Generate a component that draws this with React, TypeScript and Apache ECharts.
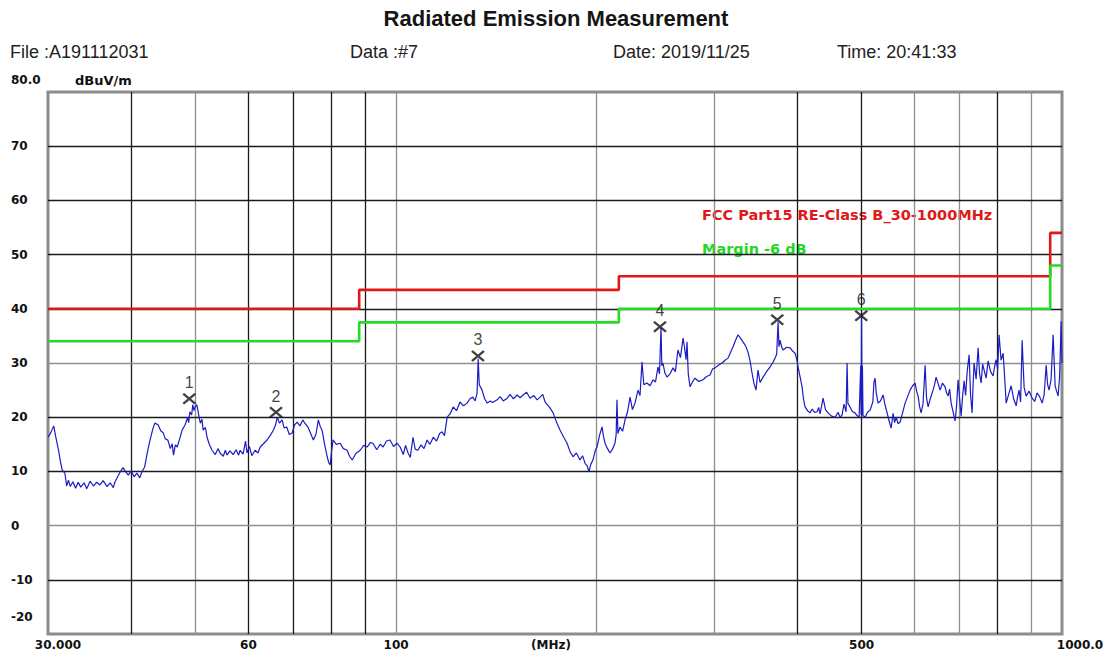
import React, { useEffect, useRef } from "react";
import * as echarts from "echarts";

const TITLE = "Radiated Emission Measurement";
const HEADER_TEXTS = ["File :A191112031", "Data :#7", "Date: 2019/11/25", "Time: 20:41:33"];
const Y_UNIT = "dBuV/m";
const X_UNIT = "(MHz)";
const LIMIT_NAME = "FCC Part15 RE-Class B_30-1000MHz";
const MARGIN_NAME = "Margin -6 dB";

// Measured trace: [frequency MHz, level dBuV/m]
const TRACE: number[][] = [
  [30.0,16.3],[30.3,17.2],[30.6,18.4],[30.8,16.5],[31.1,14.0],[31.3,12.0],[31.5,10.3],[31.8,9.7],[32.0,7.3],[32.2,8.4],
  [32.4,7.2],[32.7,8.1],[33.0,6.9],[33.3,8.0],[33.6,7.1],[34.0,7.9],[34.3,6.8],[34.7,8.2],[35.1,7.3],[35.5,8.0],
  [35.9,7.5],[36.3,8.3],[36.8,7.2],[37.2,7.9],[37.6,7.0],[37.8,8.0],[38.2,9.1],[38.5,9.9],[38.9,10.7],[39.2,10.0],
  [39.6,9.3],[40.0,10.1],[40.4,9.0],[40.8,9.7],[41.2,8.8],[41.5,9.9],[41.9,10.8],[42.3,13.5],[42.7,15.8],[43.1,17.8],
  [43.4,18.9],[43.9,18.6],[44.3,17.5],[44.7,17.1],[45.0,16.0],[45.4,15.8],[45.8,14.2],[46.1,15.1],[46.3,13.0],[46.6,14.9],
  [46.9,14.5],[47.3,16.0],[47.7,17.6],[48.2,18.6],[48.6,19.9],[48.8,19.0],[49.0,21.0],[49.3,20.4],[49.5,22.3],[49.7,21.2],
  [49.9,21.9],[50.2,22.3],[50.5,20.5],[50.8,18.9],[51.1,19.6],[51.3,17.6],[51.7,18.1],[52.0,16.3],[52.4,15.0],[52.9,13.9],
  [53.5,13.1],[54.0,14.2],[54.4,13.4],[55.0,12.8],[55.4,13.9],[55.7,13.0],[56.3,13.8],[56.9,13.1],[57.5,14.0],[58.0,13.0],
  [58.3,13.9],[58.9,13.2],[59.4,15.6],[59.7,13.4],[60.2,14.6],[60.7,12.9],[61.4,13.9],[62.0,13.4],[62.5,14.5],[63.2,15.1],
  [64.0,15.8],[64.6,16.5],[65.4,17.6],[65.9,18.6],[66.3,20.0],[66.8,18.9],[67.4,19.5],[67.9,18.0],[68.5,18.2],[69.1,16.8],
  [69.8,17.1],[70.4,18.6],[71.0,19.1],[71.7,18.4],[72.4,19.5],[73.0,18.8],[73.7,18.2],[74.4,17.0],[75.1,15.8],[75.8,16.9],
  [76.4,19.5],[76.9,18.3],[77.4,17.6],[78.1,14.9],[78.8,12.7],[79.2,11.6],[79.6,11.2],[80.0,13.8],[80.4,15.8],[81.3,15.0],
  [82.4,15.2],[83.3,14.2],[84.4,13.9],[85.1,12.8],[85.9,12.1],[87.0,13.3],[88.3,13.9],[89.4,14.8],[90.5,14.5],[91.4,15.3],
  [92.3,15.2],[93.5,14.0],[94.6,15.0],[95.6,14.5],[96.7,15.6],[97.9,15.8],[99.1,14.6],[100.3,15.2],[101.4,14.5],[102.5,13.1],
  [103.3,14.8],[104.2,13.4],[105.0,12.6],[106.0,16.3],[106.8,14.1],[107.8,13.9],[109.0,14.9],[110.1,14.2],[111.3,15.8],[112.4,15.0],
  [113.7,16.3],[115.0,15.6],[116.2,17.0],[117.2,17.3],[118.2,16.6],[119.3,20.0],[120.5,20.6],[121.8,21.9],[123.2,21.2],[124.7,22.8],
  [126.2,22.1],[127.8,22.6],[129.1,23.4],[130.4,23.7],[131.4,23.0],[132.3,24.5],[132.8,30.8],[133.3,26.0],[134.6,25.0],[135.8,23.4],
  [137.0,22.6],[138.4,23.0],[139.6,22.7],[141.8,23.2],[143.3,23.8],[144.8,23.0],[146.8,23.5],[148.3,24.2],[150.0,23.4],[151.9,24.1],
  [153.5,23.6],[155.1,24.1],[157.0,24.6],[158.9,23.5],[161.0,24.0],[162.8,23.2],[164.5,23.7],[166.0,24.2],[167.4,22.8],[170.0,21.8],
  [172.1,20.8],[174.2,19.0],[176.3,17.6],[178.5,16.3],[180.6,15.2],[182.5,13.6],[184.4,12.7],[186.5,13.4],[188.9,12.1],[190.5,12.9],
  [192.2,11.5],[193.6,11.0],[194.8,9.9],[196.0,11.3],[197.5,12.1],[199.0,13.8],[200.3,14.5],[202.0,16.6],[203.8,18.2],[204.8,16.5],
  [205.9,15.2],[207.7,14.2],[209.5,13.4],[211.3,14.1],[213.1,15.2],[214.0,16.8],[214.6,23.2],[215.3,17.0],[216.9,18.2],[218.8,17.4],
  [220.7,19.5],[222.6,21.0],[224.5,23.7],[226.4,21.4],[228.4,22.6],[230.8,25.0],[232.4,24.0],[234.0,30.2],[235.5,26.0],[238.1,26.3],
  [240.6,25.8],[243.1,26.9],[245.2,26.5],[247.3,29.3],[248.6,28.0],[249.9,36.5],[250.6,29.5],[251.6,30.0],[253.2,28.2],[255.1,27.4],
  [257.8,28.0],[260.5,29.1],[262.6,28.4],[265.0,32.4],[267.3,31.0],[269.7,34.6],[271.0,33.0],[272.5,30.6],[273.4,33.9],[274.6,28.0],
  [276.3,25.6],[278.6,26.5],[281.1,27.2],[284.8,26.6],[289.0,26.9],[292.5,27.5],[296.1,27.8],[298.6,28.9],[301.2,29.1],[304.8,29.6],
  [308.6,30.0],[311.8,30.5],[315.1,30.9],[317.9,32.0],[320.6,33.0],[323.4,34.2],[326.2,35.2],[329.0,34.6],[331.8,33.9],[334.7,33.2],
  [337.6,32.0],[340.0,30.4],[342.3,28.2],[344.7,26.2],[347.1,25.0],[349.5,28.7],[352.0,26.4],[355.7,27.4],[359.6,28.3],[364.4,29.3],
  [367.6,30.0],[370.7,30.9],[372.8,31.6],[374.6,37.5],[375.8,33.0],[377.2,34.2],[379.2,33.0],[381.1,32.4],[385.8,32.9],[390.5,32.8],
  [393.9,32.2],[397.3,31.8],[399.4,30.8],[401.4,29.3],[404.2,27.5],[407.0,25.6],[409.0,23.4],[411.2,21.9],[414.8,21.2],[418.4,20.8],
  [421.4,21.5],[425.0,20.9],[428.7,21.0],[431.0,21.8],[433.2,20.6],[437.7,23.5],[441.4,21.4],[445.3,20.8],[450.7,20.2],[456.2,20.0],
  [461.0,20.9],[464.2,20.0],[467.4,20.4],[470.5,22.4],[474.0,21.0],[475.6,30.0],[477.0,22.5],[480.5,21.9],[484.6,21.0],[488.9,20.8],
  [492.2,20.3],[495.8,20.0],[498.5,29.5],[499.2,20.5],[500.0,38.8],[500.8,20.5],[501.5,29.5],[502.5,20.3],[506.2,20.0],[510.5,20.9],
  [515.0,21.3],[519.8,22.8],[522.0,26.5],[524.0,27.2],[526.0,24.5],[529.4,22.6],[533.8,23.0],[538.6,24.1],[542.4,22.2],[546.2,20.8],
  [550.0,19.3],[553.8,18.0],[557.7,20.7],[560.5,19.0],[563.5,20.0],[567.5,18.8],[571.3,19.1],[576.2,20.8],[581.2,22.6],[586.3,23.8],
  [591.4,25.0],[596.5,25.8],[601.7,26.3],[604.8,24.8],[608.0,23.9],[611.0,22.0],[614.3,20.8],[618.5,22.5],[622.9,29.6],[626.0,23.5],
  [629.4,21.9],[634.8,23.6],[640.3,25.0],[643.6,26.0],[647.0,27.4],[651.6,26.2],[656.0,25.0],[661.5,26.3],[667.4,25.6],[670.8,24.5],
  [674.4,23.9],[678.0,25.2],[681.5,22.6],[686.2,21.0],[690.9,19.3],[694.4,22.0],[698.1,26.9],[701.7,23.5],[705.5,20.2],[709.0,23.8],
  [712.8,26.7],[716.5,24.0],[720.5,28.5],[725.3,31.5],[729.0,24.0],[732.8,20.8],[735.3,26.0],[737.9,30.0],[743.0,27.0],[748.2,32.8],
  [752.0,28.0],[756.0,26.3],[760.0,29.8],[763.9,28.7],[769.2,27.2],[774.5,30.4],[781.2,28.4],[788.0,27.6],[792.2,29.4],[796.3,30.6],
  [800.4,28.8],[804.5,35.2],[810.0,30.5],[815.8,31.8],[820.0,27.5],[824.4,22.6],[831.5,24.2],[838.7,25.8],[846.0,23.4],[853.4,22.1],
  [857.7,23.8],[862.1,25.0],[866.6,22.8],[871.2,34.2],[877.2,25.5],[883.4,23.9],[892.6,24.8],[901.9,23.5],[909.7,22.9],[917.6,24.5],
  [925.5,23.8],[933.6,22.6],[940.2,24.2],[946.7,29.6],[951.5,26.0],[956.4,25.0],[963.0,27.0],[969.8,35.2],[976.5,25.8],[981.5,24.8],
  [986.7,23.9],[991.8,27.5],[997.1,37.7],[1000.0,30.0],
];

// Limit lines
const LIMIT_FREQ = [30, 88, 88, 216, 216, 960, 960, 1000];
const LIMIT_LEVEL = [40, 40, 43.5, 43.5, 46, 46, 54, 54];
const MARGIN_LEVEL = [34, 34, 37.5, 37.5, 40, 40, 48, 48];

// Marked peaks
const MARKER_FREQ = [48.9, 66.0, 132.7, 249.0, 373.5, 499.5];
const MARKER_LEVEL = [23.4, 20.9, 31.3, 36.7, 38.0, 38.7];

// Axes / grid
const Y_MIN = -20;
const Y_MAX = 80;
const Y_STEP = 10;
const X_MIN = 30;
const X_MAX = 1000;
const X_LABEL_VALUES = [30, 60, 100, 500, 1000];
const V_GRID_DARK = [40, 60, 70, 80, 90, 400, 500, 800];
const V_GRID_LIGHT = [50, 100, 200, 300, 600, 700, 900];
const H_GRID_DARK = [70, 60, 50, 40, 20, 10, -10];
const H_GRID_LIGHT = [30, 0];

const FONT = "'Liberation Sans', Arial, sans-serif";
const BOLD_FONT = "'DejaVu Sans', 'Liberation Sans', sans-serif";

export default function App() {
  const ref = useRef<HTMLDivElement>(null);

  useEffect(() => {
    if (!ref.current) return;
    const chart = echarts.init(ref.current, undefined, { renderer: "svg" });

    const limit = LIMIT_FREQ.map((f, i) => [f, LIMIT_LEVEL[i]]);
    const margin = LIMIT_FREQ.map((f, i) => [f, MARGIN_LEVEL[i]]);
    const markers = MARKER_FREQ.map((f, i) => [f, MARKER_LEVEL[i]]);

    const dark = { color: "#1a1a1a", width: 1.3, type: "solid" };
    const light = { color: "#8f8f8f", width: 1.3, type: "solid" };
    const gridLines = [
      ...V_GRID_DARK.map((v) => ({ xAxis: v, lineStyle: dark })),
      ...V_GRID_LIGHT.map((v) => ({ xAxis: v, lineStyle: light })),
      ...H_GRID_DARK.map((v) => ({ yAxis: v, lineStyle: dark })),
      ...H_GRID_LIGHT.map((v) => ({ yAxis: v, lineStyle: light })),
    ];

    const headerX = [10, 350, 613, 837];
    const labelStyle = { fontFamily: BOLD_FONT, fontWeight: "bold", fontSize: 12, color: "#111" };

    const option: any = {
      animation: false,
      backgroundColor: "#ffffff",
      title: {
        text: TITLE,
        left: "center",
        top: 2,
        textStyle: { fontFamily: FONT, fontWeight: "bold", fontSize: 22, color: "#151515" },
      },
      grid: {
        left: 48,
        right: 50,
        top: 92,
        bottom: 21,
        show: true,
        borderColor: "#8c8c8c",
        borderWidth: 3,
        backgroundColor: "transparent",
        outerBoundsMode: "none",
        containLabel: false,
      },
      xAxis: {
        type: "log",
        logBase: 10,
        min: X_MIN,
        max: X_MAX,
        axisLine: { show: false },
        axisTick: { show: false },
        splitLine: { show: false },
        minorTick: { show: false },
        minorSplitLine: { show: false },
        axisLabel: {
          customValues: X_LABEL_VALUES,
          margin: 5,
          ...labelStyle,
          formatter: (v: number) => {
            if (v === X_MIN) return "{first|" + v.toFixed(3) + "}";
            if (v === X_MAX) return "{last|" + v.toFixed(1) + "}";
            return String(v);
          },
          rich: {
            first: { ...labelStyle, padding: [0, 0, 0, 20] },
            last: { ...labelStyle, padding: [0, 0, 0, 36] },
          },
        },
      },
      yAxis: {
        type: "value",
        min: Y_MIN,
        max: Y_MAX,
        interval: Y_STEP,
        axisLine: { show: false },
        axisTick: { show: false },
        splitLine: { show: false },
        axisLabel: {
          align: "left",
          margin: 37,
          ...labelStyle,
          formatter: (v: number) => {
            if (v === Y_MAX) return "{top|" + v.toFixed(1) + "}";
            if (v === Y_MIN) return "{bottom|" + v + "}";
            return String(v);
          },
          rich: {
            top: { ...labelStyle, padding: [0, 0, 24, 0] },
            bottom: { ...labelStyle, padding: [0, 0, 34, 0] },
          },
        },
      },
      graphic: [
        ...HEADER_TEXTS.map((t, i) => ({
          type: "text",
          x: headerX[i],
          y: 52,
          style: { text: t, fill: "#222", font: `18px ${FONT}`, align: "left", verticalAlign: "middle" },
        })),
        {
          type: "text",
          x: 75,
          y: 80,
          style: { text: Y_UNIT, fill: "#111", font: `bold 13px ${BOLD_FONT}`, align: "left", verticalAlign: "middle" },
        },
        {
          type: "text",
          x: 551,
          y: 645,
          style: { text: X_UNIT, fill: "#111", font: `bold 12px ${BOLD_FONT}`, align: "center", verticalAlign: "middle" },
        },
        {
          type: "text",
          x: 702,
          y: 215,
          style: { text: LIMIT_NAME, fill: "#e01818", font: `bold 14.5px ${BOLD_FONT}`, align: "left", verticalAlign: "middle" },
        },
        {
          type: "text",
          x: 702,
          y: 249,
          style: { text: MARGIN_NAME, fill: "#1fd81f", font: `bold 14.5px ${BOLD_FONT}`, align: "left", verticalAlign: "middle" },
        },
      ],
      series: [
        {
          type: "line",
          data: [],
          silent: true,
          z: 1,
          markLine: {
            silent: true,
            symbol: "none",
            z: 1,
            label: { show: false },
            animation: false,
            data: gridLines,
          },
        },
        {
          name: "trace",
          type: "line",
          data: TRACE,
          showSymbol: false,
          symbol: "none",
          z: 3,
          lineStyle: { color: "#1c1cc4", width: 1.2 },
        },
        {
          name: LIMIT_NAME,
          type: "line",
          data: limit,
          showSymbol: false,
          symbol: "none",
          z: 4,
          lineStyle: { color: "#e01818", width: 2.6 },
        },
        {
          name: MARGIN_NAME,
          type: "line",
          data: margin,
          showSymbol: false,
          symbol: "none",
          z: 4,
          lineStyle: { color: "#22dd22", width: 2.6 },
        },
        {
          name: "markers",
          type: "scatter",
          data: markers,
          z: 6,
          symbol: "path://M0 0L10 10M10 0L0 10",
          symbolSize: [12, 10],
          itemStyle: { color: "none", borderColor: "#111", borderWidth: 2.3 },
          label: {
            show: true,
            position: "top",
            distance: 1,
            formatter: (p: any) => String(p.dataIndex + 1),
            fontFamily: FONT,
            fontSize: 16,
            color: "#111",
          },
        },
      ],
    };

    chart.setOption(option);
    return () => chart.dispose();
  }, []);

  return (
    <div
      ref={ref}
      style={{ position: "fixed", left: 0, top: 0, width: 1112, height: 655, background: "#fff" }}
    />
  );
}
